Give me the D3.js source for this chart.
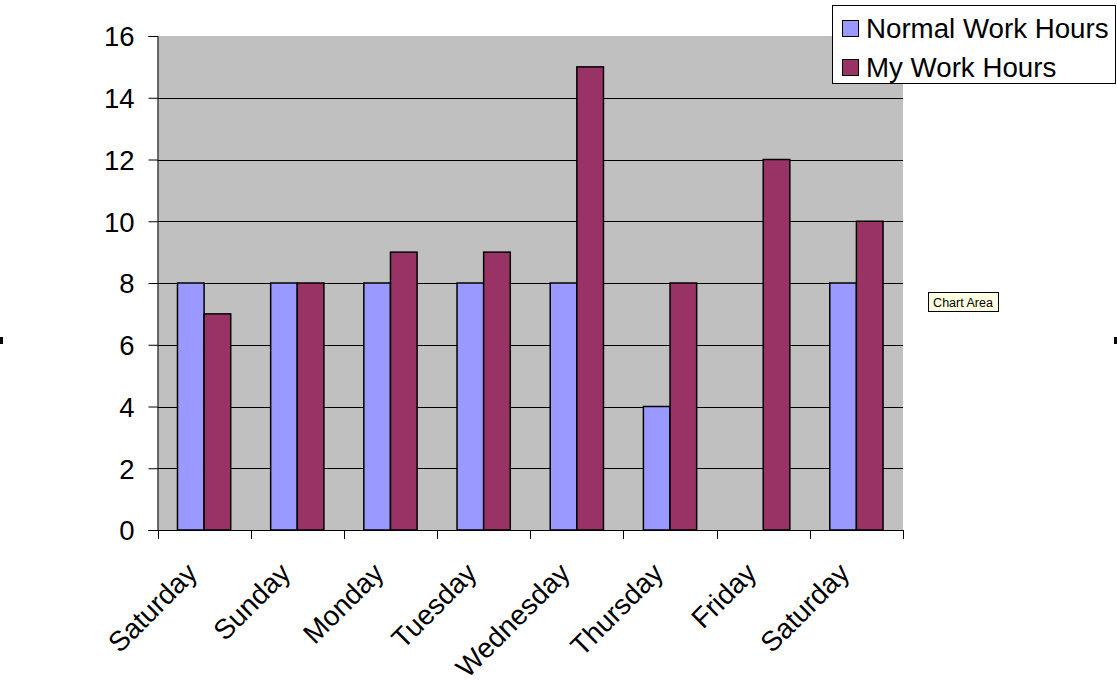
<!DOCTYPE html>
<html><head><meta charset="utf-8">
<script src="https://cdn.jsdelivr.net/npm/d3@7"></script>
<style>
body{margin:0;background:#fff;}
text{font-family:"Liberation Sans",Arial,sans-serif;}
</style></head>
<body><svg id="chart" width="1117" height="683"></svg>
<script>
const categories = ["Saturday","Sunday","Monday","Tuesday","Wednesday","Thursday","Friday","Saturday"];
const normalHours = [8,8,8,8,8,4,0,8];
const myHours = [7,8,9,9,15,8,12,10];
const seriesNames = ["Normal Work Hours","My Work Hours"];
const seriesColors = ["#9999FF","#993366"];
const yTicks = [0,2,4,6,8,10,12,14,16];

const svg = d3.select("#chart");
const L = 157.5, R = 903, T = 36, B = 530;
const ids = categories.map((c,i)=>i);
const x = d3.scaleBand().domain(ids).range([L,R]).paddingInner(0).paddingOuter(0);
const y = d3.scaleLinear().domain([0,16]).range([B,T]);
const bw = x.bandwidth()/3.5;
const inner = d3.scaleBand().domain([0,1]).range([0.75*bw, 2.75*bw]);

svg.append("rect").attr("x",L).attr("y",T).attr("width",R-L).attr("height",B-T).attr("fill","#C0C0C0");

// gridlines
svg.append("g").selectAll("line").data(yTicks.filter(d=>d>0)).join("line")
  .attr("x1",L).attr("x2",R).attr("y1",d=>Math.round(y(d))+0.5).attr("y2",d=>Math.round(y(d))+0.5)
  .attr("stroke",d=>d===16?"#C0C0C0":"#000").attr("stroke-width",1);

const data = [normalHours,myHours];
data.forEach((vals,s)=>{
  svg.append("g").selectAll("rect").data(vals).join("rect")
    .attr("x",(d,i)=>x(i)+inner(s))
    .attr("y",d=>y(d))
    .attr("width",inner.bandwidth())
    .attr("height",d=>B-y(d))
    .attr("fill",seriesColors[s])
    .attr("stroke",d=>d>0?"#000":"none").attr("stroke-width",1.5);
});

// y axis
const ya = svg.append("g").attr("transform",`translate(${L},0)`)
  .call(d3.axisLeft(y).tickValues(yTicks).tickSize(9).tickPadding(14));
ya.select(".domain").attr("stroke","#000").attr("stroke-width",1);
ya.selectAll("line").attr("stroke","#000");
ya.selectAll("text").attr("font-size",27.5).attr("fill","#000").attr("dy","0.36em");

// x axis
const xa = svg.append("g").attr("transform",`translate(0,${B})`)
  .call(d3.axisBottom(x).tickSize(0).tickFormat((d)=>categories[d]));
xa.select(".domain").attr("stroke","#000").attr("stroke-width",1.2);
xa.selectAll(".tick text")
  .attr("font-size",28).attr("fill","#000")
  .attr("text-anchor","end")
  .attr("transform","translate(-20,30) rotate(-45)")
  .attr("x",0).attr("y",0).attr("dy","0.75em");
const bounds = d3.range(categories.length+1).map(i=>L+i*x.bandwidth());
svg.append("g").selectAll("line").data(bounds).join("line")
  .attr("x1",d=>Math.round(d)+0.5).attr("x2",d=>Math.round(d)+0.5)
  .attr("y1",B).attr("y2",B+9).attr("stroke","#000");

// legend
const lg = svg.append("g");
lg.append("rect").attr("x",832.5).attr("y",5.5).attr("width",283).attr("height",78)
  .attr("fill","#fff").attr("stroke","#000");
seriesNames.forEach((n,i)=>{
  const yy = 28 + i*39;
  lg.append("rect").attr("x",842.5).attr("y",yy-7.5).attr("width",16).attr("height",16)
    .attr("fill",seriesColors[i]).attr("stroke","#000");
  lg.append("text").attr("x",866).attr("y",yy).attr("dy","0.36em")
    .attr("font-size",27.7).attr("fill","#000").text(n);
});

// tooltip
svg.append("rect").attr("x",928.5).attr("y",292.5).attr("width",70).attr("height",19)
  .attr("fill","#FFFFE1").attr("stroke","#000");
svg.append("text").attr("x",963).attr("y",302).attr("dy","0.36em").attr("text-anchor","middle")
  .attr("font-size",12.5).attr("font-family","DejaVu Sans, sans-serif").text("Chart Area");

// selection handle marks
svg.append("rect").attr("x",0).attr("y",337).attr("width",3).attr("height",7).attr("fill","#000");
svg.append("rect").attr("x",1114).attr("y",337).attr("width",3).attr("height",7).attr("fill","#000");
</script></body></html>
